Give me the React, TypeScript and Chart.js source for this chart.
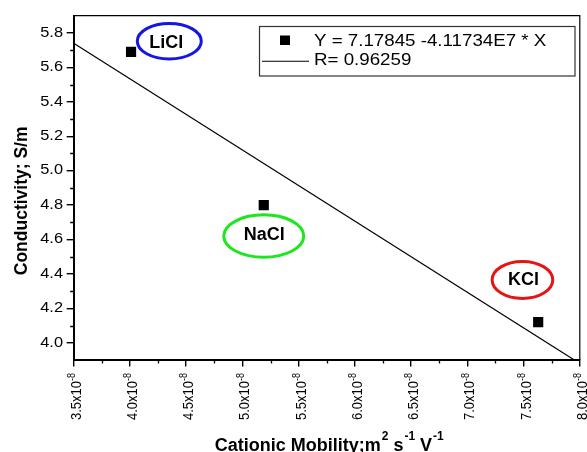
import React, { useEffect, useRef } from "react";
import { Chart, registerables } from "chart.js";

Chart.register(...registerables);

// ---- data ----
const salts = ["LiCl", "NaCl", "KCl"];
const mobility = [4.01e-8, 5.19e-8, 7.63e-8];
const conductivity = [5.69, 4.8, 4.12];
const fitLineX = [3.5e-8, 8.0e-8];
const fitLineY = [5.74, 3.88];
const xTicks = [3.5e-8, 4.0e-8, 4.5e-8, 5.0e-8, 5.5e-8, 6.0e-8, 6.5e-8, 7.0e-8, 7.5e-8, 8.0e-8];
const xTickMantissas = ["3.5", "4.0", "4.5", "5.0", "5.5", "6.0", "6.5", "7.0", "7.5", "8.0"];
const xTickExponent = "-8";
const xMinorTicks = [3.75e-8, 4.25e-8, 4.75e-8, 5.25e-8, 5.75e-8, 6.25e-8, 6.75e-8, 7.25e-8, 7.75e-8];
const yTicks = [4.0, 4.2, 4.4, 4.6, 4.8, 5.0, 5.2, 5.4, 5.6, 5.8];
const yMinorTicks = [4.1, 4.3, 4.5, 4.7, 4.9, 5.1, 5.3, 5.5, 5.7];
const legendLines = ["Y = 7.17845 -4.11734E7 * X", "R= 0.96259"];
const yTitle = "Conductivity; S/m";
const xTitleParts = ["Cationic Mobility;m", "2", " s", "-1", " V", "-1"];
// label callouts (data coordinates of the ellipse centres)
const calloutX = [4.35e-8, 5.19e-8, 7.49e-8];
const calloutY = [5.752, 4.62, 4.365];

// ---- styles ----
const FONT = "'Liberation Sans', Arial, Helvetica, sans-serif";
const SX = 1.17;
const calloutStyle = [
  { color: "#1515e6", rx: 32, ry: 17.7, dx: -3, dy: 1.5 },
  { color: "#1ee61e", rx: 40, ry: 21.2, dx: 0.5, dy: -1 },
  { color: "#e61515", rx: 30.3, ry: 18.5, dx: 1, dy: 0.5 },
];

function drawText(ctx: CanvasRenderingContext2D, s: string, x: number, y: number, size: number, bold: boolean, align: CanvasTextAlign, baseline: CanvasTextBaseline, sx = 1) {
  ctx.save();
  ctx.translate(x, y);
  ctx.scale(sx, 1);
  ctx.font = `${bold ? "bold " : ""}${size}px ${FONT}`;
  ctx.textAlign = align;
  ctx.textBaseline = baseline;
  ctx.fillStyle = "#000";
  ctx.fillText(s, 0, 0);
  ctx.restore();
}

const decorPlugin = {
  id: "decor",
  afterDraw(chart: any) {
    const ctx: CanvasRenderingContext2D = chart.ctx;
    const a = chart.chartArea;
    const xs = chart.scales.x;
    const ys = chart.scales.y;
    ctx.save();

    // top & right frame
    ctx.strokeStyle = "#000";
    ctx.lineWidth = 1.2;
    ctx.beginPath();
    ctx.moveTo(a.left, a.top);
    ctx.lineTo(a.right, a.top);
    ctx.lineTo(a.right, a.bottom);
    ctx.stroke();

    // minor ticks
    ctx.lineWidth = 1.3;
    ctx.beginPath();
    yMinorTicks.forEach((v) => {
      const py = Math.round(ys.getPixelForValue(v)) + 0.5;
      ctx.moveTo(a.left - 3.5, py);
      ctx.lineTo(a.left, py);
    });
    xMinorTicks.forEach((v) => {
      const px = Math.round(xs.getPixelForValue(v)) + 0.5;
      ctx.moveTo(px, a.bottom);
      ctx.lineTo(px, a.bottom + 3.5);
    });
    ctx.stroke();

    // y tick labels
    yTicks.forEach((v) => {
      drawText(ctx, v.toFixed(1), a.left - 10.7, ys.getPixelForValue(v), 14, false, "right", "middle", SX);
    });

    // x tick labels (rotated)
    xTicks.forEach((v, i) => {
      const px = xs.getPixelForValue(v);
      ctx.save();
      ctx.translate(px, a.bottom);
      ctx.scale(SX, 1);
      ctx.rotate(-Math.PI / 2);
      ctx.fillStyle = "#000";
      ctx.textAlign = "right";
      ctx.textBaseline = "alphabetic";
      ctx.font = `13px ${FONT}`;
      ctx.fillText(xTickMantissas[i] + "x10", -21, 6);
      ctx.font = `9px ${FONT}`;
      ctx.fillText(xTickExponent, -13, 1.1);
      ctx.restore();
    });

    // y title
    ctx.save();
    ctx.translate(27.3, (a.top + a.bottom) / 2 + 13);
    ctx.rotate(-Math.PI / 2);
    ctx.font = `bold 17.5px ${FONT}`;
    ctx.textAlign = "center";
    ctx.textBaseline = "alphabetic";
    ctx.fillStyle = "#000";
    ctx.fillText(yTitle, 0, 0);
    ctx.restore();

    // x title with superscripts
    const big = `bold 18px ${FONT}`;
    const small = `bold 12px ${FONT}`;
    let total = 0;
    xTitleParts.forEach((p, i) => {
      ctx.font = i % 2 === 0 ? big : small;
      total += ctx.measureText(p).width + (i % 2 === 1 ? 1 : 0);
    });
    let cx = (a.left + a.right) / 2 + 2.5 - total / 2;
    const baseY = a.bottom + 91;
    ctx.fillStyle = "#000";
    ctx.textAlign = "left";
    ctx.textBaseline = "alphabetic";
    xTitleParts.forEach((p, i) => {
      const sup = i % 2 === 1;
      ctx.font = sup ? small : big;
      if (sup) cx += 1;
      ctx.fillText(p, cx, sup ? baseY - 11 : baseY);
      cx += ctx.measureText(p).width;
    });

    // legend box
    ctx.lineWidth = 1.2;
    ctx.strokeStyle = "#333";
    ctx.strokeRect(259.5, 26.5, 315.5, 49.5);
    ctx.fillStyle = "#000";
    ctx.fillRect(280, 35.5, 10, 9.5);
    ctx.lineWidth = 1.1;
    ctx.strokeStyle = "#000";
    ctx.beginPath();
    ctx.moveTo(262, 61.3);
    ctx.lineTo(309, 61.3);
    ctx.stroke();
    drawText(ctx, legendLines[0], 314, 41.3, 16, false, "left", "middle", SX);
    drawText(ctx, legendLines[1], 314, 61, 16, false, "left", "middle", SX);

    // callout ellipses
    salts.forEach((s, i) => {
      const st = calloutStyle[i];
      const ex = xs.getPixelForValue(calloutX[i]);
      const ey = ys.getPixelForValue(calloutY[i]);
      ctx.beginPath();
      ctx.ellipse(ex, ey, st.rx, st.ry, 0, 0, Math.PI * 2);
      ctx.lineWidth = 3;
      ctx.strokeStyle = st.color;
      ctx.stroke();
      drawText(ctx, s, ex + st.dx, ey + st.dy, 18, true, "center", "middle");
    });

    ctx.restore();
  },
};

export default function App() {
  const ref = useRef<HTMLCanvasElement | null>(null);

  useEffect(() => {
    const canvas = ref.current;
    if (!canvas) return;
    const chart = new Chart(canvas, {
      type: "scatter",
      data: {
        datasets: [
          {
            label: "data",
            data: mobility.map((m, i) => ({ x: m, y: conductivity[i] })),
            pointStyle: "rect",
            pointRadius: 7.2,
            pointBackgroundColor: "#000",
            pointBorderColor: "#000",
            pointBorderWidth: 0,
            showLine: false,
          },
          {
            label: "fit",
            data: fitLineX.map((x, i) => ({ x, y: fitLineY[i] })),
            showLine: true,
            pointRadius: 0,
            borderColor: "#000",
            borderWidth: 1.2,
          },
        ],
      },
      options: {
        animation: false,
        responsive: false,
        devicePixelRatio: 1,
        events: [],
        layout: { padding: { left: 0, top: 15.7, right: 4, bottom: 0 } },
        plugins: { legend: { display: false }, tooltip: { enabled: false } },
        scales: {
          x: {
            type: "linear",
            min: 3.5e-8,
            max: 8.0e-8,
            afterBuildTicks: (s: any) => {
              s.ticks = xTicks.map((v) => ({ value: v }));
            },
            afterFit: (s: any) => {
              s.height = 92;
            },
            ticks: { display: false },
            grid: {
              display: true,
              drawOnChartArea: false,
              drawTicks: true,
              tickLength: 6.5,
              color: "#000",
              lineWidth: 1.4,
            },
            border: { display: true, color: "#000", width: 2 },
          },
          y: {
            type: "linear",
            min: 3.9,
            max: 5.9,
            afterBuildTicks: (s: any) => {
              s.ticks = yTicks.map((v) => ({ value: v }));
            },
            afterFit: (s: any) => {
              s.width = 73.7;
            },
            ticks: { display: false },
            grid: {
              display: true,
              drawOnChartArea: false,
              drawTicks: true,
              tickLength: 7,
              color: "#000",
              lineWidth: 1.4,
            },
            border: { display: true, color: "#000", width: 2 },
          },
        },
      },
      plugins: [decorPlugin],
    } as any);
    return () => chart.destroy();
  }, []);

  return (
    <canvas
      ref={ref}
      width={587}
      height={452}
      style={{ position: "absolute", left: 0, top: 0, width: 587, height: 452, background: "#fff" }}
    />
  );
}
